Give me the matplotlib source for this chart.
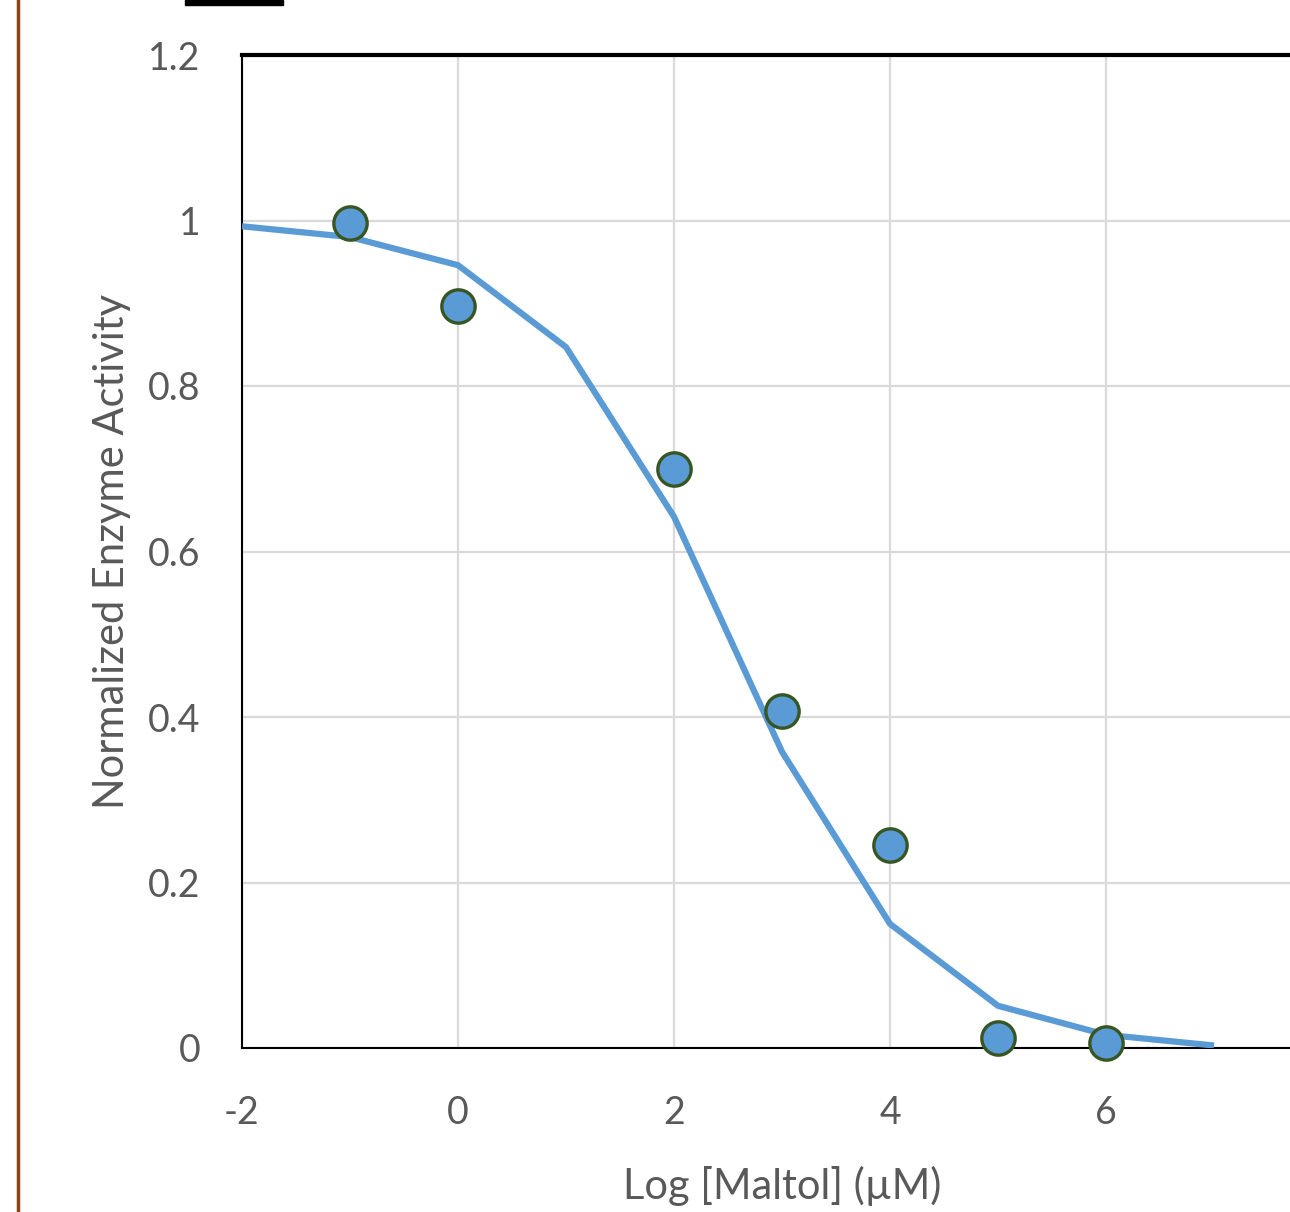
import matplotlib
matplotlib.use("Agg")
import matplotlib.pyplot as plt
from matplotlib.patches import Rectangle
from matplotlib.lines import Line2D

# Data
fit_x = [-2, -1, 0, 1, 2, 3, 4, 5, 6, 7]
fit_y = [0.993, 0.98, 0.946, 0.847, 0.642, 0.358, 0.150, 0.051, 0.016, 0.003]
obs_x = [-1, 0, 2, 3, 4, 5, 6]
obs_y = [0.997, 0.897, 0.70, 0.407, 0.245, 0.012, 0.006]
x_ticks = [-2, 0, 2, 4, 6, 8]
x_ticklabels = ["-2", "0", "2", "4", "6", ""]
y_ticks = [0, 0.2, 0.4, 0.6, 0.8, 1.0, 1.2]
y_ticklabels = ["0", "0.2", "0.4", "0.6", "0.8", "1", "1.2"]

plt.rcParams['font.family'] = ['Lato', 'DejaVu Sans']
plt.rcParams['axes.unicode_minus'] = False

W, H = 1290, 1212
fig = plt.figure(figsize=(W / 100, H / 100), dpi=100)

# axes: left 242px, right at x=8 -> 1322px, top 55px, bottom 1048px
left, right, top, bottom = 242, 1322, 55, 1048
ax = fig.add_axes([left / W, 1 - bottom / H, (right - left) / W, (bottom - top) / H])
ax.set_xlim(-2, 8)
ax.set_ylim(0, 1.2)

ax.plot(fit_x, fit_y, color='#5B9BD5', lw=4.5, zorder=3, solid_capstyle='butt')
ax.plot(obs_x, obs_y, 'o', ms=24, mfc='#5B9BD5', mec='#375623', mew=2.4, zorder=4, clip_on=False)

ax.set_xticks(x_ticks)
ax.set_xticklabels(x_ticklabels)
ax.set_yticks(y_ticks)
ax.set_yticklabels(y_ticklabels)
ax.grid(True, color='#D9D9D9', lw=1.6, zorder=0)
ax.set_axisbelow(True)
ax.tick_params(length=0, labelsize=27, colors='#595959', pad=0)
ax.tick_params(axis='y', pad=30)
ax.tick_params(axis='x', pad=34)
for s in ['left', 'bottom']:
    ax.spines[s].set_color('black')
    ax.spines[s].set_linewidth(1.5)
ax.spines['top'].set_color('black')
ax.spines['top'].set_linewidth(3)
ax.spines['right'].set_visible(False)

ax.set_xlabel('Log [Maltol] (µM)', fontsize=30, color='#595959', labelpad=25)
ax.set_ylabel('Normalized Enzyme Activity', fontsize=30, color='#595959', labelpad=12)

# decorations: brown left border line and black bar at top
fig.add_artist(Line2D([18 / W, 18 / W], [0, 1], color='#8B4513', lw=2.5, transform=fig.transFigure))
fig.add_artist(Rectangle((185 / W, 1 - 5 / H), 98 / W, 5 / H, color='black', transform=fig.transFigure))

fig.savefig('out.png', dpi=100)
